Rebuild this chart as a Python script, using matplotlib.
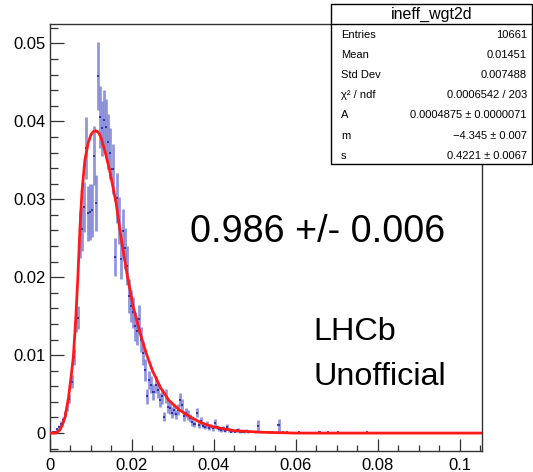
import numpy as np
import matplotlib
matplotlib.use("Agg")
import matplotlib.pyplot as plt
from matplotlib.patches import Rectangle
from matplotlib.ticker import MultipleLocator, FixedLocator, FixedFormatter

plt.rcParams['font.family'] = ['Liberation Sans', 'DejaVu Sans']

# ======================
# DATA
# ======================
BIN_WIDTH = 0.0005
N_BINS = 210

counts = [
    0.0000, 0.0001, 0.0002, 0.0005, 0.0008, 0.0012, 0.0017, 0.0024, 0.0033, 0.0044,
    0.0066, 0.0098, 0.0143, 0.0148, 0.0255, 0.0262, 0.0290, 0.0366, 0.0282, 0.0284,
    0.0286, 0.0356, 0.0295, 0.0458, 0.0406, 0.0391, 0.0402, 0.0393, 0.0374, 0.0359,
    0.0339, 0.0226, 0.0302, 0.0273, 0.0223, 0.0259, 0.0237, 0.0215, 0.0176, 0.0163,
    0.0155, 0.0137, 0.0131, 0.0146, 0.0120, 0.0103, 0.0081, 0.0047, 0.0068, 0.0062,
    0.0053, 0.0062, 0.0055, 0.0043, 0.0047, 0.0021, 0.0047, 0.0034, 0.0032, 0.0026,
    0.0030, 0.0024, 0.0030, 0.0043, 0.0036, 0.0022, 0.0026, 0.0023, 0.0019, 0.0014,
    0.0012, 0.0026, 0.0011, 0.0015, 0.0009, 0.0008, 0.0011, 0.0007, 0.0009, 0.0006,
    0.0013, 0.0008, 0.0005, 0.0004, 0.0006, 0.0003, 0.0008, 0.0004, 0.0002, 0.0003,
    0.0002, 0.0004, 0.0001, 0.0002, 0.0001, 0.0003, 0.0001, 0.0002, 0.0000, 0.0002,
    0.0001, 0.0009, 0.0001, 0.0000, 0.0002, 0.0000, 0.0001, 0.0000, 0.0001, 0.0000,
    0.0000, 0.0010, 0.0000, 0.0001, 0.0000, 0.0001, 0.0000, 0.0000, 0.0000, 0.0000,
    0.0000, 0.0001, 0.0000, 0.0000, 0.0000, 0.0000, 0.0000, 0.0000, 0.0000, 0.0000,
    0.0000, 0.0001, 0.0000, 0.0000, 0.0000, 0.0001, 0.0000, 0.0000, 0.0000, 0.0000,
    0.0001, 0.0000, 0.0000, 0.0000, 0.0000, 0.0000, 0.0000, 0.0000, 0.0000, 0.0000,
    0.0000, 0.0000, 0.0000, 0.0000, 0.0001, 0.0000, 0.0000, 0.0000, 0.0000, 0.0000,
] + [0.0] * 50

errors = [
    0.0000, 0.0001, 0.0001, 0.0002, 0.0002, 0.0003, 0.0003, 0.0004, 0.0005, 0.0006,
    0.0008, 0.0010, 0.0013, 0.0015, 0.0030, 0.0028, 0.0032, 0.0040, 0.0035, 0.0036,
    0.0034, 0.0038, 0.0036, 0.0044, 0.0040, 0.0035, 0.0038, 0.0036, 0.0035, 0.0033,
    0.0032, 0.0024, 0.0032, 0.0030, 0.0025, 0.0028, 0.0026, 0.0025, 0.0022, 0.0021,
    0.0020, 0.0019, 0.0018, 0.0018, 0.0016, 0.0015, 0.0014, 0.0010, 0.0012, 0.0011,
    0.0010, 0.0011, 0.0010, 0.0009, 0.0010, 0.0006, 0.0009, 0.0008, 0.0007, 0.0007,
    0.0007, 0.0006, 0.0007, 0.0009, 0.0008, 0.0006, 0.0006, 0.0006, 0.0005, 0.0005,
    0.0004, 0.0006, 0.0004, 0.0005, 0.0003, 0.0003, 0.0004, 0.0003, 0.0003, 0.0003,
    0.0005, 0.0003, 0.0002, 0.0002, 0.0003, 0.0002, 0.0004, 0.0002, 0.0001, 0.0002,
    0.0001, 0.0002, 0.0001, 0.0001, 0.0001, 0.0002, 0.0001, 0.0001, 0.0000, 0.0001,
    0.0001, 0.0008, 0.0001, 0.0000, 0.0001, 0.0000, 0.0001, 0.0000, 0.0001, 0.0000,
    0.0000, 0.0008, 0.0000, 0.0001, 0.0000, 0.0001, 0.0000, 0.0000, 0.0000, 0.0000,
    0.0000, 0.0001, 0.0000, 0.0000, 0.0000, 0.0000, 0.0000, 0.0000, 0.0000, 0.0000,
    0.0000, 0.0001, 0.0000, 0.0000, 0.0000, 0.0001, 0.0000, 0.0000, 0.0000, 0.0000,
    0.0001, 0.0000, 0.0000, 0.0000, 0.0000, 0.0000, 0.0000, 0.0000, 0.0000, 0.0000,
    0.0000, 0.0000, 0.0000, 0.0000, 0.0001, 0.0000, 0.0000, 0.0000, 0.0000, 0.0000,
] + [0.0] * 50

# fitted curve (red)
fit_x = [0.0, 0.0015, 0.0024, 0.0030, 0.0037, 0.0045, 0.0051, 0.0057, 0.0063, 0.0068,
         0.0073, 0.0078, 0.0085, 0.0093, 0.0100, 0.0106, 0.0112, 0.0118, 0.0124, 0.0134,
         0.0146, 0.0161, 0.0175, 0.0189, 0.0203, 0.0220, 0.0235, 0.0250, 0.0270, 0.0290,
         0.0315, 0.0341, 0.0370, 0.0398, 0.0450, 0.0520, 0.0600, 0.1054]
fit_y = [0.0, 0.0, 0.0004, 0.0010, 0.0021, 0.0045, 0.0070, 0.0098, 0.0148, 0.0200,
         0.0262, 0.0310, 0.0350, 0.0372, 0.0383, 0.0387, 0.0388, 0.0386, 0.0380, 0.0362,
         0.0336, 0.0296, 0.0245, 0.0201, 0.0162, 0.0128, 0.0102, 0.0080, 0.0058, 0.0042,
         0.0030, 0.0021, 0.0013, 0.0008, 0.0003, 0.0001, 0.0, 0.0]

xtick_vals = [0, 0.02, 0.04, 0.06, 0.08, 0.1]
xtick_labels = ["0", "0.02", "0.04", "0.06", "0.08", "0.1"]
ytick_vals = [0, 0.01, 0.02, 0.03, 0.04, 0.05]
ytick_labels = ["0", "0.01", "0.02", "0.03", "0.04", "0.05"]

stats_title = "ineff_wgt2d"
stats_names = ["Entries", "Mean", "Std Dev", "χ² / ndf", "A", "m", "s"]
stats_values = ["10661", "0.01451", "0.007488", "0.0006542 / 203",
                "0.0004875 ± 0.0000071", "−4.345 ± 0.007", "0.4221 ± 0.0067"]

# ======================
# FIGURE
# ======================
W, H = 533, 472
fig = plt.figure(figsize=(W / 100, H / 100), dpi=100)
ax = fig.add_axes([50 / W, 1 - 451 / H, 432 / W, 427 / H])

centers = (np.arange(N_BINS) + 0.5) * BIN_WIDTH
vals = np.array(counts)
errs = np.array(errors)
mask = vals > 0

ax.errorbar(centers[mask], vals[mask], yerr=errs[mask], fmt='none',
            ecolor="#7f84d8", alpha=0.85, elinewidth=2.0, capsize=0, zorder=2)
ax.errorbar(centers[mask], vals[mask], xerr=BIN_WIDTH / 2, fmt='none',
            ecolor="#23279a", elinewidth=1.2, capsize=0, zorder=3)

ax.plot(fit_x, fit_y, color="#ff1a1a", lw=2.0, zorder=4)

ax.set_xlim(0, 0.1054)
ax.set_ylim(-0.0023, 0.0525)

ax.xaxis.set_major_locator(FixedLocator(xtick_vals))
ax.xaxis.set_major_formatter(FixedFormatter(xtick_labels))
ax.yaxis.set_major_locator(FixedLocator(ytick_vals))
ax.yaxis.set_major_formatter(FixedFormatter(ytick_labels))
ax.xaxis.set_minor_locator(MultipleLocator(0.005))
ax.yaxis.set_minor_locator(MultipleLocator(0.002))

ax.tick_params(axis='both', which='both', direction='in', top=False, right=False,
               labelsize=12, width=0.9, color="#333333")
ax.tick_params(axis='x', which='major', length=9, pad=5)
ax.tick_params(axis='x', which='minor', length=4.5)
ax.tick_params(axis='y', which='major', length=10, pad=3)
ax.tick_params(axis='y', which='minor', length=5.5)
for sp in ax.spines.values():
    sp.set_linewidth(1.0)
    sp.set_color("#333333")

# ======================
# TEXT
# ======================
def fx(px):
    return px / W

def fy(py):
    return 1 - py / H

fig.text(fx(190), fy(242), "0.986 +/- 0.006", fontsize=27.2, va='baseline', ha='left')
fig.text(fx(313), fy(340), "LHCb", fontsize=23.3, va='baseline', ha='left')
fig.text(fx(313), fy(385), "Unofficial", fontsize=23.3, va='baseline', ha='left')

# ======================
# STATS BOX
# ======================
bx0, bx1, by0, by1 = 331, 532, 4, 164
box = Rectangle((fx(bx0), fy(by1)), fx(bx1) - fx(bx0), fy(by0) - fy(by1),
                transform=fig.transFigure, facecolor="white", edgecolor="black",
                lw=1.0, zorder=10)
fig.patches.append(box)
fig.add_artist(plt.Line2D([fx(bx0), fx(bx1)], [fy(24), fy(24)],
                          transform=fig.transFigure, color="black", lw=1.0, zorder=11))
fig.text(fx((bx0 + bx1) / 2), fy(14), stats_title, fontsize=11.5,
         ha='center', va='center', zorder=12)
for k, (name, val) in enumerate(zip(stats_names, stats_values)):
    yy = fy(34.5 + 20.2 * k)
    fig.text(fx(341), yy, name, fontsize=8, ha='left', va='center', zorder=12)
    fig.text(fx(527), yy, val, fontsize=8, ha='right', va='center', zorder=12)

fig.savefig("out.png", dpi=100)
